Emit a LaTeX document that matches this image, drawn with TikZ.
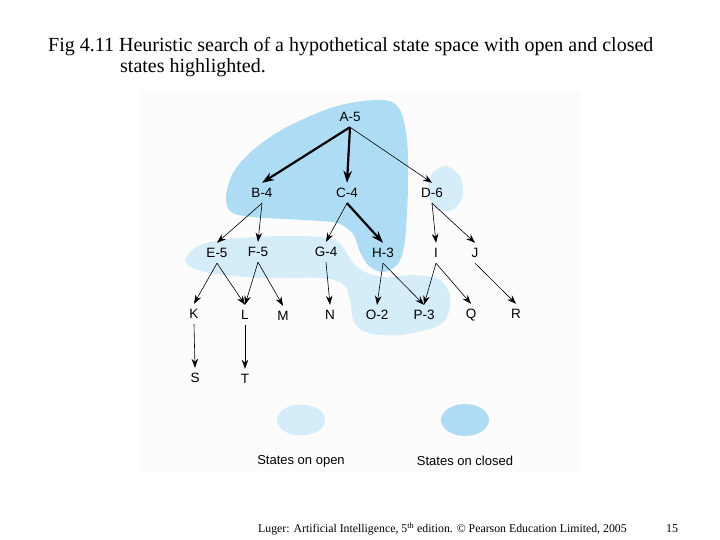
\documentclass[tikz,border=0pt]{standalone}
\usepackage{fontspec}
\setmainfont{Liberation Serif}
\setsansfont{Liberation Sans}
\usetikzlibrary{arrows.meta, positioning, shapes.geometric}
\definecolor{openblue}{RGB}{213,236,249}
\definecolor{closedblue}{RGB}{174,220,245}
\tikzset{
  state/.style={font=\sffamily\fontsize{13.5}{13.5}\selectfont, inner sep=1pt, minimum height=20pt, text depth=0pt},
  edge/.style={-{Stealth[length=9pt, width=6.5pt]}, line width=0.6pt},
  bestedge/.style={-{Stealth[length=12pt, width=8.5pt]}, line width=2.2pt},
  blob/.style={draw=none, smooth cycle, tension=0.55},
  legend/.style={font=\sffamily\fontsize{13}{13}\selectfont}
}

\begin{document}
\begin{tikzpicture}[x=1pt, y=-1pt, node distance=22pt]
    \useasboundingbox (0,0) rectangle (720,540);
    \fill[black!1] (140,91) rectangle (581,472);
    % title
    \node[anchor=west, font=\fontsize{20}{20}\selectfont, inner sep=0pt] (title1) at (48,47) {Fig 4.11 Heuristic search of a hypothetical state space with open and closed};
    \node[anchor=west, font=\fontsize{20}{20}\selectfont, inner sep=0pt] (title2) at (120,68) {states highlighted.};
    % open and closed regions
    \fill[closedblue] plot[blob] coordinates {(383,100) (400,110) (407,140) (408,180) (407,213) (404,247) (397,265) (383,272) (369,266) (360,252) (353,234) (337,223) (303,220) (253,217) (231,212) (226,197) (233,173) (253,150) (287,127) (337,106)};
    \fill[openblue] plot[blob] coordinates {(446,166) (461,178) (462,198) (452,210) (436,209) (428,194) (431,175)};
    \fill[openblue] plot[blob] coordinates {(186,258) (200,245) (230,239) (280,236) (320,237) (337,241) (345,250) (352,262) (365,272) (385,277) (415,275) (438,279) (449,292) (449,312) (438,326) (400,335) (368,333) (354,322) (350,300) (343,284) (320,278) (260,278) (210,273) (189,266)};
    % states
    \node[state] (A) at (350,117) {A-5};
    \node[state] (B) at (262,193) {B-4};
    \node[state] (C) at (347,193) {C-4};
    \node[state] (D) at (432,193) {D-6};
    \node[state] (E) at (217,253) {E-5};
    \node[state] (F) at (258,252) {F-5};
    \node[state] (G) at (326,252) {G-4};
    \node[state] (H) at (383,253) {H-3};
    \node[state] (I) at (436,253) {I};
    \node[state] (J) at (475,253) {J};
    \node[state] (K) at (194,314) {K};
    \node[state] (L) at (245,315) {L};
    \node[state] (M) at (283,316) {M};
    \node[state] (N) at (330,315) {N};
    \node[state] (O) at (377,315) {O-2};
    \node[state] (P) at (424,315) {P-3};
    \node[state] (Q) at (471,314) {Q};
    \node[state] (R) at (516,314) {R};
    \node[state] (S) at (195,378) {S};
    \node[state] (T) at (245,379) {T};
    \draw[bestedge] (A.south) -- (B.north);
    \draw[bestedge] (A.south) -- (C.north);
    \draw[edge] (A.south) -- (D.north);
    \draw[edge] (B.south) -- (E.north);
    \draw[edge] (B.south) -- (F.north);
    \draw[edge] (C.south) -- (G.north);
    \draw[bestedge] (C.south) -- (H.north);
    \draw[edge] (D.south) -- (I.north);
    \draw[edge] (D.south) -- (J.north);
    \draw[edge] (E.south) -- (K.north);
    \draw[edge] (E.south) -- (L.north);
    \draw[edge] (F.south) -- (L.north);
    \draw[edge] (F.south) -- (M.north);
    \draw[edge] (G.south) -- (N.north);
    \draw[edge] (H.south) -- (O.north);
    \draw[edge] (H.south) -- (P.north);
    \draw[edge] (I.south) -- (P.north);
    \draw[edge] (I.south) -- (Q.north);
    \draw[edge] (J.south) -- (R.north);
    \draw[edge] (K.south) -- (S.north);
    \draw[edge] (L.south) -- (T.north);
    % legend
    \node[ellipse, fill=openblue, minimum width=48pt, minimum height=31pt, inner sep=0pt] (openkey) at (301,420) {};
    \node[ellipse, fill=closedblue, minimum width=48pt, minimum height=32pt, inner sep=0pt] (closedkey) at (465,420) {};
    \node[legend, below=16pt of openkey] (openlabel) {States on open};
    \node[legend, below=16pt of closedkey] (closedlabel) {States on closed};
    % footer
    \node[anchor=west, font=\fontsize{11.8}{11.8}\selectfont, inner sep=0pt] (credit) at (258,529) {Luger: Artificial Intelligence, 5\textsuperscript{th} edition. © Pearson Education Limited, 2005};
    \node[font=\fontsize{12}{12}\selectfont, inner sep=0pt] (page) at (672,529) {15};
  \end{tikzpicture}
\end{document}
